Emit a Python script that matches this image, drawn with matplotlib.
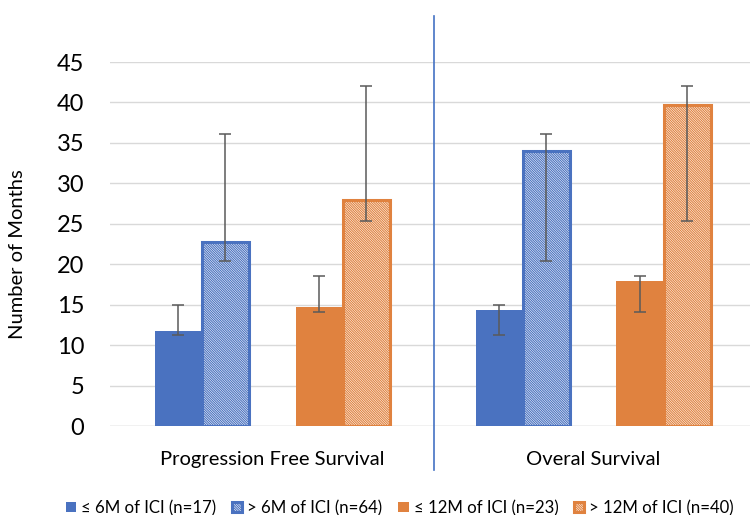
import matplotlib
matplotlib.use("Agg")
import matplotlib.pyplot as plt
import numpy as np

plt.rcParams['font.family'] = ['Lato', 'DejaVu Sans']
plt.rcParams['hatch.linewidth'] = 0.8

categories = ["Progression Free Survival", "Overal Survival"]
series_labels = ["≤ 6M of ICI (n=17)", "> 6M of ICI (n=64)",
                 "≤ 12M of ICI (n=23)", "> 12M of ICI (n=40)"]
le6_vals = [11.7, 14.4]
gt6_vals = [22.8, 34.0]
le12_vals = [14.7, 17.9]
gt12_vals = [28.0, 39.7]
le6_ci = [(11.2, 14.9), (11.2, 14.9)]
gt6_ci = [(20.4, 36.1), (20.4, 36.1)]
le12_ci = [(14.1, 18.5), (14.1, 18.5)]
gt12_ci = [(25.4, 42.0), (25.4, 42.0)]
yticks = [0, 5, 10, 15, 20, 25, 30, 35, 40, 45]

blue = "#4A72C0"
orange = "#E0823F"

fig = plt.figure(figsize=(7.5, 5.15), dpi=100)
ax = fig.add_axes([110/750, 0.1728, 1 - 110/750, 0.7068])

x = np.arange(len(categories))
w = 0.146
offs = [-0.293, -0.146, 0.146, 0.293]
vals = [le6_vals, gt6_vals, le12_vals, gt12_vals]
cis = [le6_ci, gt6_ci, le12_ci, gt12_ci]
colors = [blue, blue, orange, orange]
hatched = [False, True, False, True]

handles = []
for v, ci, c, h, o, lab in zip(vals, cis, colors, hatched, offs, series_labels):
    v = np.array(v)
    lo = np.array([a for a, b in ci])
    hi = np.array([b for a, b in ci])
    if h:
        b = ax.bar(x + o, v, w, facecolor="white", edgecolor=c, hatch="\\" * 14,
                   linewidth=2.2, zorder=3, label=lab)
    else:
        b = ax.bar(x + o, v, w, color=c, linewidth=0, zorder=2, label=lab)
    handles.append(b)
    ax.errorbar(x + o, v, yerr=[v - lo, hi - v], fmt="none", ecolor="#5A5A5A",
                elinewidth=1.1, capsize=4, capthick=1.1, zorder=4)

ax.set_xlim(-0.505, 1.489)
ax.set_ylim(0, 45)
ax.set_yticks(yticks)
ax.set_yticklabels([str(t) for t in yticks], fontsize=17)
ax.set_xticks(x)
ax.set_xticklabels(categories, fontsize=14.5)
ax.tick_params(axis='both', length=0)
ax.tick_params(axis='y', pad=18.5)
ax.tick_params(axis='x', pad=18)
ax.yaxis.grid(True, color="#D9D9D9", linewidth=1.0, zorder=0)
ax.set_axisbelow(True)
for s in ax.spines.values():
    s.set_visible(False)
ax.axhline(0, color="#D9D9D9", linewidth=1.0, zorder=1)
ax.set_ylabel("Number of Months", fontsize=14.5)
ax.yaxis.set_label_coords(-0.131, 0.4725)

# separator between categories
ax.axvline(0.505, ymin=-0.121, ymax=1.126, color="#4472C4", linewidth=1.2,
           clip_on=False, zorder=5)

fig.legend(handles=handles, labels=series_labels, loc="center left",
           bbox_to_anchor=(66/750, 1 - 508/515), ncol=4, frameon=False,
           fontsize=12.1, handlelength=0.6, handleheight=0.6, handletextpad=0.3,
           columnspacing=0.95, borderaxespad=0, borderpad=0)

fig.savefig("out.png", dpi=100)
